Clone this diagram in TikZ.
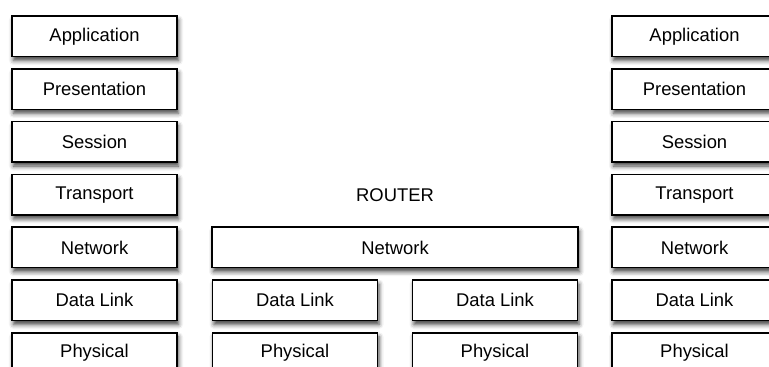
\documentclass[tikz,border=0pt]{standalone}
\usepackage{fontspec}
\setmainfont{Liberation Sans}
\usetikzlibrary{shadows.blur}
\tikzset{
  layer/.style={draw=black, line width=1.5pt, fill=white, minimum height=40.5pt,
    minimum width=165pt, inner sep=0pt, font=\fontsize{18.4pt}{20pt}\selectfont,
    blur shadow={shadow xshift=1.5pt, shadow yshift=-4pt, shadow blur radius=4.5pt, shadow opacity=75}},
  wide/.style={layer, minimum width=366pt}
}
\begin{document}
\begin{tikzpicture}[x=1pt,y=-1pt]
\useasboundingbox (0,0) rectangle (769,367);
\clip (0,0) rectangle (769,367);
% left host
\node[layer] (la) at (94.5,36.25) {Application};
\node[layer] (lp) at (94.5,89.05) {Presentation};
\node[layer] (ls) at (94.5,141.85) {Session};
\node[layer] (lt) at (94.5,194.65) {Transport};
\node[layer] (ln) at (94.5,247.45) {Network};
\node[layer] (ld) at (94.5,300.25) {Data Link};
\node[layer] (lph) at (94.5,353.05) {Physical};
% router
\node[font=\fontsize{18.4pt}{20pt}\selectfont] (rl) at (395,195) {ROUTER};
\node[wide] (rn) at (395,247.45) {Network};
\node[layer] (rd1) at (295,300.25) {Data Link};
\node[layer] (rd2) at (495,300.25) {Data Link};
\node[layer] (rp1) at (295,353.05) {Physical};
\node[layer] (rp2) at (495,353.05) {Physical};
% right host
\node[layer] (ra) at (694.5,36.25) {Application};
\node[layer] (rpr) at (694.5,89.05) {Presentation};
\node[layer] (rs) at (694.5,141.85) {Session};
\node[layer] (rt) at (694.5,194.65) {Transport};
\node[layer] (rnw) at (694.5,247.45) {Network};
\node[layer] (rdl) at (694.5,300.25) {Data Link};
\node[layer] (rph) at (694.5,353.05) {Physical};
\end{tikzpicture}
\end{document}
